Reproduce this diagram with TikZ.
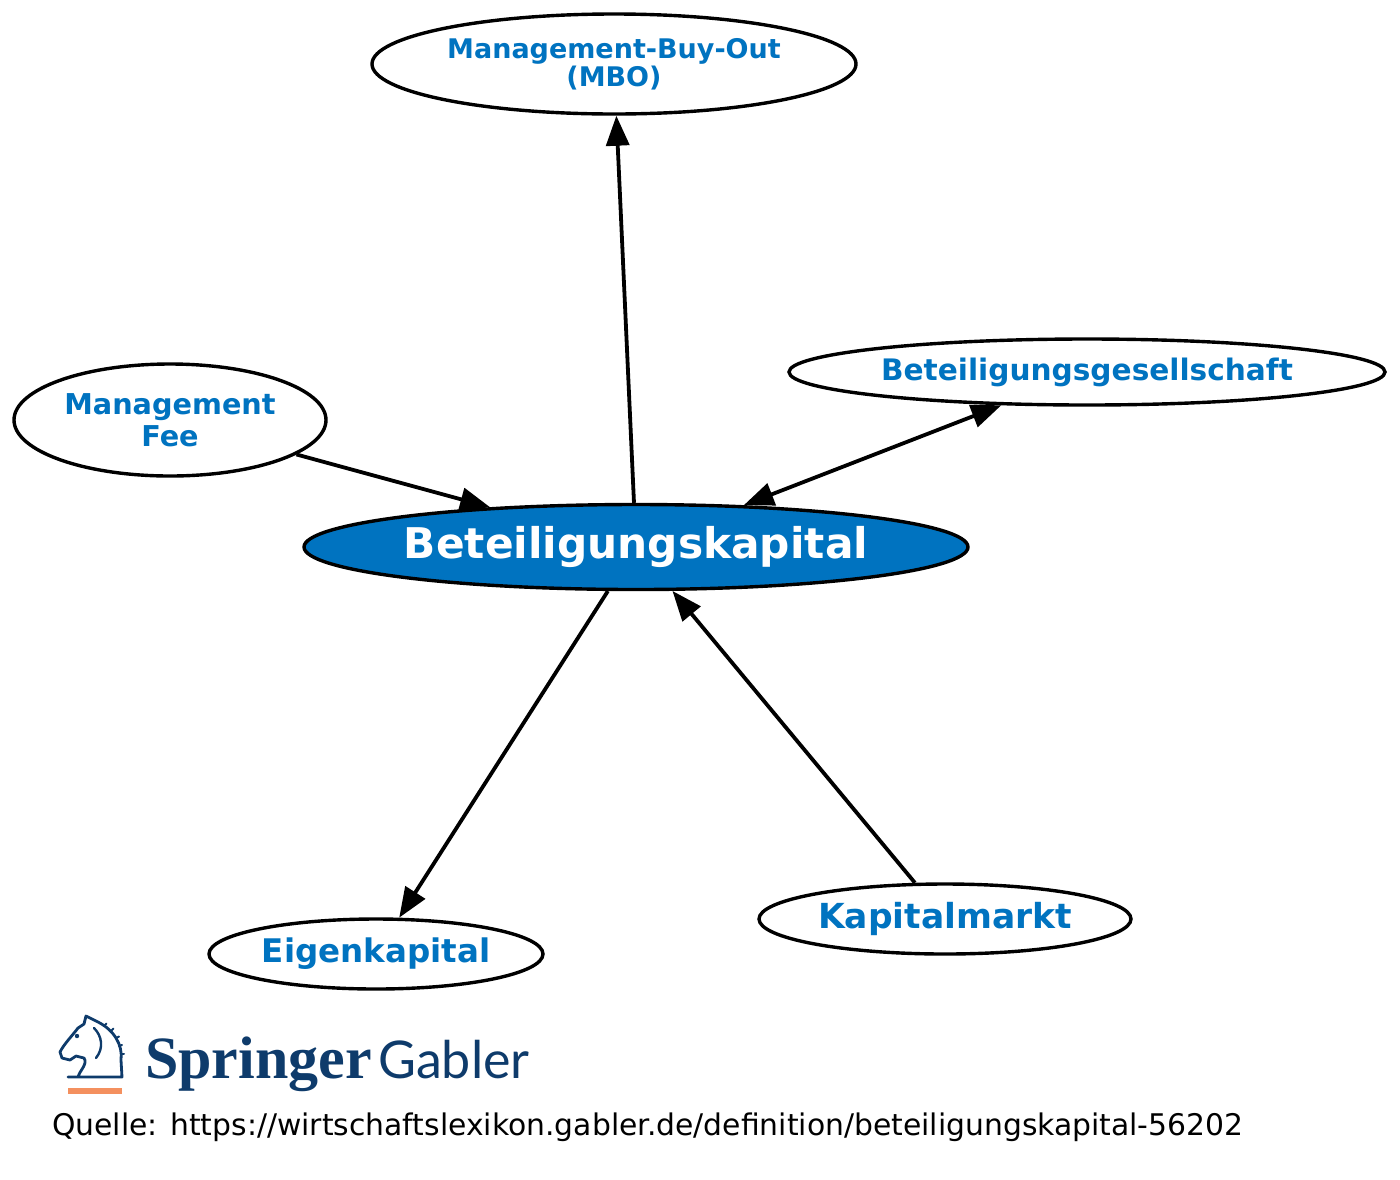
\documentclass[tikz,border=0pt]{standalone}
\usepackage{fontspec}
\setmainfont{DejaVu Sans}
\newfontfamily\springerfont{Liberation Serif}
\newfontfamily\gablerfont{Lato}
\usetikzlibrary{shapes.geometric,arrows.meta}
\definecolor{gblue}{HTML}{0073C0}
\definecolor{logoblue}{HTML}{0E3B6B}
\definecolor{logoorange}{HTML}{F4905F}
\tikzset{
  term/.style={ellipse, draw=black, line width=3.4pt, fill=white, inner sep=0pt,
    text=gblue, font=\bfseries, align=center},
  conn/.style={line width=3.8pt, draw=black},
  tip/.style={-{Triangle[length=30pt,width=23pt]}},
  bitip/.style={{Triangle[length=30pt,width=23pt]}-{Triangle[length=30pt,width=23pt]}},
  logoline/.style={logoblue, line width=2.8pt, line join=round, line cap=round},
}
\begin{document}
\begin{tikzpicture}[x=1pt,y=-1pt]
\useasboundingbox (0,0) rectangle (1400,1179);
\node[term, minimum width=484pt, minimum height=100pt, font=\bfseries\fontsize{27}{28}\selectfont] (mbo) at (614,64) {Management-Buy-Out\\(MBO)};
\node[term, minimum width=596pt, minimum height=66pt, font=\bfseries\fontsize{29.6}{30}\selectfont] (bg) at (1087,372) {Beteiligungsgesellschaft};
\node[term, minimum width=312pt, minimum height=112pt, font=\bfseries\fontsize{28.7}{32}\selectfont] (mf) at (170,420) {Management\\Fee};
\node[term, fill=gblue, text=white, minimum width=664pt, minimum height=85pt, font=\bfseries\fontsize{42.3}{44}\selectfont] (bk) at (636,547) {Beteiligungskapital};
\node[term, minimum width=334pt, minimum height=70pt, font=\bfseries\fontsize{32.5}{34}\selectfont] (ek) at (376,954) {Eigenkapital};
\node[term, minimum width=372pt, minimum height=70pt, font=\bfseries\fontsize{34.5}{36}\selectfont] (km) at (945,919) {Kapitalmarkt};
\draw[conn, tip] (bk) -- (mbo);
\draw[conn, tip] (mf) -- (bk);
\draw[conn, bitip] (bk) -- (bg);
\draw[conn, tip] (bk) -- (ek);
\draw[conn, tip] (km) -- (bk);
% logo: horse head
\draw[logoline]
  (68,1077) -- (122,1077) -- (121,1060) .. controls (123,1045) and (114,1030) .. (98,1022)
  -- (86,1016) -- (84,1024) -- (78,1028) .. controls (72,1036) and (64,1044) .. (60,1052)
  -- (62,1058) -- (70,1060) -- (76,1056) -- (84,1058) .. controls (88,1064) and (80,1070) .. (78,1077);
\draw[logoline, line width=2.4pt] (94,1028) .. controls (102,1036) and (104,1048) .. (96,1058);
\draw[logoline, line width=2pt] (104,1026) -- ++(2.5,-2.5);
\draw[logoline, line width=2pt] (111,1031) -- ++(2.5,-2.5);
\draw[logoline, line width=2pt] (116,1038) -- ++(3,-1.5);
\draw[logoline, line width=2pt] (119,1046) -- ++(3,-1);
\draw[logoline, line width=2pt] (121,1054) -- ++(3,0);
\fill[logoblue] (77,1036) circle (2.2pt);
\fill[logoorange] (68,1088) rectangle (122,1094);
\node[anchor=base west, inner sep=0pt, text=logoblue, font=\springerfont\bfseries\fontsize{60}{60}\selectfont] (spr) at (145,1078) {Springer};
\node[anchor=base west, inner sep=0pt, text=logoblue, font=\gablerfont\fontsize{52}{52}\selectfont] (gab) at (378,1078) {Gabler};
\node[anchor=base west, inner sep=0pt, font=\fontsize{29.8}{30}\selectfont] (src) at (52,1135) {Quelle: https://wirtschaftslexikon.gabler.de/definition/beteiligungskapital-56202};
\end{tikzpicture}
\end{document}
